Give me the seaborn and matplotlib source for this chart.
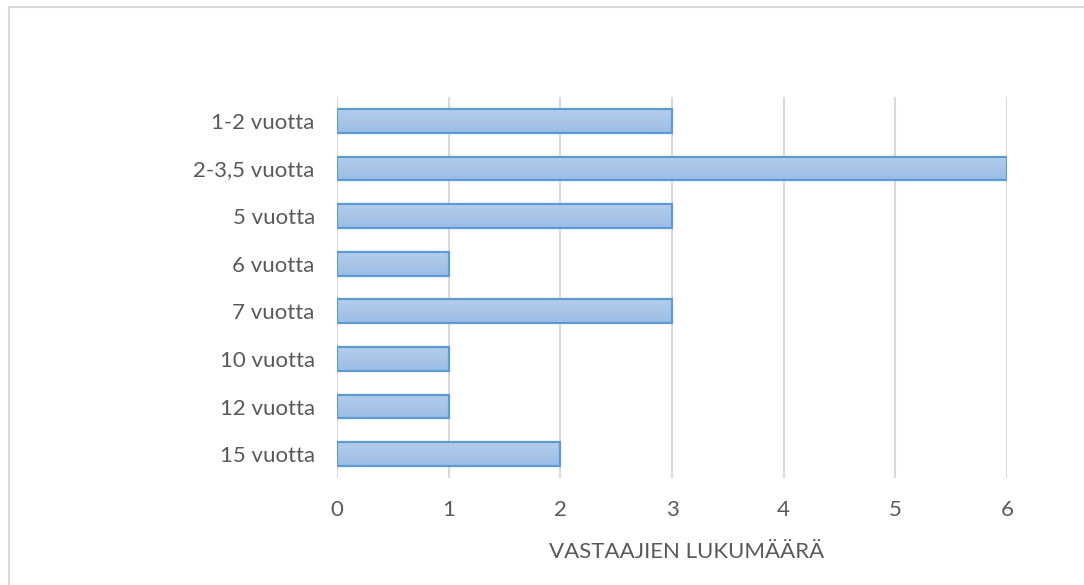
import matplotlib
matplotlib.use("Agg")
import matplotlib.pyplot as plt
import seaborn as sns
import numpy as np
import pandas as pd
from matplotlib.patches import Rectangle
from matplotlib.colors import LinearSegmentedColormap

categories = ["1-2 vuotta", "2-3,5 vuotta", "5 vuotta", "6 vuotta", "7 vuotta",
              "10 vuotta", "12 vuotta", "15 vuotta"]
counts = [3, 6, 3, 1, 3, 1, 1, 2]
xticks = [0, 1, 2, 3, 4, 5, 6]
xlabel = "VASTAAJIEN LUKUMÄÄRÄ"

sns.set_theme(style="white")
plt.rcParams['font.family'] = ['Lato', 'DejaVu Sans']

df = pd.DataFrame({"cat": categories, "n": counts})

fig = plt.figure(figsize=(10.84, 5.85), dpi=100)
ax = fig.add_axes([337/1084, 1-478/585, 670/1084, 381/585])

sns.barplot(data=df, x="n", y="cat", order=categories, orient="h", ax=ax,
            color="#a9c6e8", width=0.5, edgecolor="#5b9bd5", linewidth=1.6,
            zorder=3)

# gradient fill inside bars
cmap = LinearSegmentedColormap.from_list("g", ["#b5cdea", "#9bbde5"])
grad = np.linspace(0, 1, 64).reshape(-1, 1)
for p in ax.patches:
    x0, y0 = p.get_x(), p.get_y()
    w, h = p.get_width(), p.get_height()
    im = ax.imshow(grad, cmap=cmap, aspect="auto",
                   extent=(x0, x0 + w, y0 + h, y0), zorder=2.5,
                   origin="upper")
    im.set_clip_path(p)
    p.set_facecolor("none")

ax.set_xlim(0, 6)
ax.set_ylim(7.5, -0.5)
ax.set_xticks(xticks)
ax.set_xticklabels([str(t) for t in xticks])
ax.grid(axis="x", color="#d9d9d9", linewidth=1.5, zorder=0)
ax.grid(axis="y", visible=False)
for s in ax.spines.values():
    s.set_visible(False)
ax.tick_params(axis="both", length=0, labelsize=16, colors="#595959")
ax.tick_params(axis="x", pad=16)
ax.tick_params(axis="y", pad=16)
ax.set_ylabel("")
ax.set_xlabel(xlabel, fontsize=16, color="#595959")
ax.xaxis.set_label_coords((687-337)/670, -(542-478)/381)

fig.patches.append(Rectangle((9/1084, -0.1), 1.2, (1-7/585)+0.1,
                             transform=fig.transFigure, fill=False,
                             edgecolor="#d9d9d9", linewidth=1.5))

fig.savefig("out.png", dpi=100, facecolor="white")
